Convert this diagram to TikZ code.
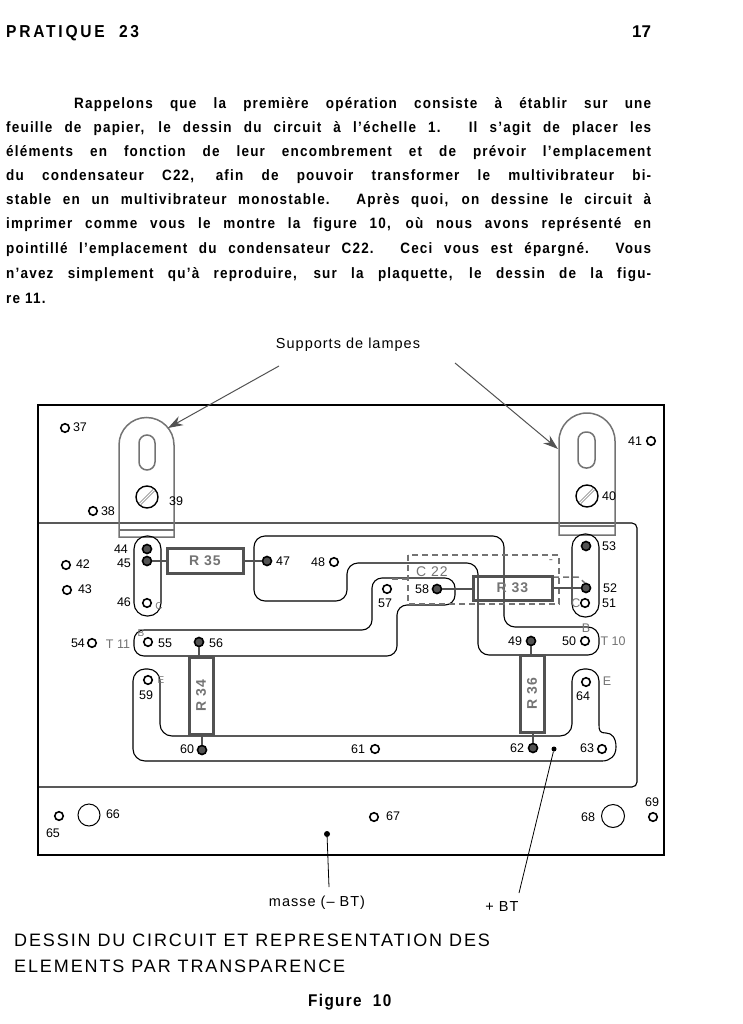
\documentclass[tikz,border=0pt]{standalone}
\usepackage{xcolor}
\usepackage{fontspec}
\setmainfont{Liberation Sans}
\newfontfamily\pagefont[LetterSpace=8,FakeStretch=0.9]{Liberation Sans}
\newfontfamily\headfont[LetterSpace=16,FakeStretch=0.9]{Liberation Sans}
\newfontfamily\capfont[LetterSpace=10.5]{Liberation Sans}
\newfontfamily\legendfont[LetterSpace=7]{Liberation Sans}
\usetikzlibrary{arrows.meta}
\definecolor{partgrey}{gray}{0.45}
\definecolor{padgrey}{gray}{0.32}
\newcommand{\bodyline}[1]{\makebox[645pt][s]{\pagefont\bfseries\fontsize{15}{16}\selectfont #1}}
\tikzset{
  pad/.style={circle,draw=black,line width=1.6pt,fill=white,inner sep=0pt,minimum size=8.5pt},
  padfull/.style={pad,fill=padgrey,minimum size=9pt},
  num/.style={inner sep=0pt,font=\fontsize{12.5}{13}\selectfont},
  greytext/.style={num,text=partgrey},
  trace/.style={draw=black,line width=1.1pt},
  socket/.style={draw=partgrey,line width=1.5pt},
  partbox/.style={draw=padgrey,line width=3pt,fill=white,inner sep=0pt,font=\legendfont\fontsize{14}{15}\selectfont\bfseries,text=partgrey},
  lead/.style={draw=padgrey,line width=1.8pt},
  dashbox/.style={draw=partgrey,line width=1.5pt,dash pattern=on 6pt off 4pt},
  screw/.style={circle,draw=black,line width=1.4pt,inner sep=0pt,minimum size=22pt},
  slit/.style={draw=partgrey,line width=0.8pt,double=white,double distance=1.2pt,shorten <=2pt,shorten >=2pt},
  pointer/.style={draw=black,line width=0.8pt},
  arrowline/.style={draw=padgrey,line width=1pt,-{Stealth[length=15pt,width=10pt]}},
  legend/.style={inner sep=0pt,font=\legendfont\fontsize{14.5}{15}\selectfont},
  pagetext/.style={inner sep=0pt,anchor=base west}
}
\begin{document}
\begin{tikzpicture}[x=1pt,y=-1pt]
  \useasboundingbox (0,0) rectangle (742,1024);

  % page text
  \node[pagetext,font=\headfont\bfseries\fontsize{17.3}{18}\selectfont] (title) at (6,38) {PRATIQUE\ \ 23};
  \node[pagetext,font=\bfseries\fontsize{17}{18}\selectfont] (folio) at (632,38) {17};
  \node[pagetext] (line0) at (6,109) {\hspace{68pt}\makebox[577pt][s]{\pagefont\bfseries\fontsize{15}{16}\selectfont Rappelons que la première opération consiste à établir sur une}};
  \node[pagetext] (line1) at (6,133) {\bodyline{feuille de papier, le dessin du circuit à l’échelle 1. Il s’agit de placer les}};
  \node[pagetext] (line2) at (6,157) {\bodyline{éléments en fonction de leur encombrement et de prévoir l’emplacement}};
  \node[pagetext] (line3) at (6,181) {\bodyline{du condensateur C22, afin de pouvoir transformer le multivibrateur bi-}};
  \node[pagetext] (line4) at (6,205) {\bodyline{stable en un multivibrateur monostable. Après quoi, on dessine le circuit à}};
  \node[pagetext] (line5) at (6,229) {\bodyline{imprimer comme vous le montre la figure 10, où nous avons représenté en}};
  \node[pagetext] (line6) at (6,253) {\bodyline{pointillé l’emplacement du condensateur C22. Ceci vous est épargné. Vous}};
  \node[pagetext] (line7) at (6,278) {\bodyline{n’avez simplement qu’à reproduire, sur la plaquette, le dessin de la figu-}};
  \node[pagetext,font=\pagefont\bfseries\fontsize{15}{16}\selectfont] (line8) at (6,303) {re 11.};

  % board
  \node[legend] (supports) at (348,345) {Supports de lampes};
  \draw[draw=black,line width=1.8pt] (38,405) rectangle (664,855);
  \draw[trace,rounded corners=5pt] (38,523) -- (637,523) -- (637,787) -- (38,787);

  % lamp holders
  \draw[socket] (119,537) -- (119,445) arc[start angle=180,end angle=0,radius=27.5pt] -- (174,537) -- cycle;
  \draw[socket] (119,530) -- (174,530);
  \draw[socket,rounded corners=8pt] (139,435) rectangle (155,470);
  \node[screw] (s39) at (147,497) {};
  \draw[slit] (s39.south west) -- (s39.north east);
  \draw[socket] (559,535) -- (559,441) arc[start angle=180,end angle=0,radius=28pt] -- (615,535) -- cycle;
  \draw[socket] (559,526) -- (615,526);
  \draw[socket,rounded corners=8pt] (578,432) rectangle (595,468);
  \node[screw] (s40) at (587,496) {};
  \draw[slit] (s40.south west) -- (s40.north east);
  \coordinate (tailL) at (279,366);
  \coordinate (tipL) at (168,428);
  \coordinate (tailR) at (455,363);
  \coordinate (tipR) at (558,449);
  \draw[arrowline] (tailL) -- (tipL);
  \draw[arrowline] (tailR) -- (tipR);

  % copper outlines
  \draw[trace,rounded corners=13pt] (134,536) rectangle (161,616);
  \draw[trace,rounded corners=13pt] (572,534) rectangle (599,617);
  \draw[trace,rounded corners=11pt] (254,536) -- (504,536) -- (504,627) -- (599,627) -- (599,655) -- (478,655) -- (478,563) -- (347,563) -- (347,601) -- (254,601) -- cycle;
  \draw[trace,rounded corners=10pt] (134,630) -- (372,630) -- (372,578) -- (455,578) -- (455,605) -- (397,605) -- (397,656) -- (134,656) -- cycle;
  \draw[trace,rounded corners=12pt] (599,725) -- (599,669) -- (572,669) -- (572,736) -- (160,736) -- (160,669) -- (133,669) -- (133,761) -- (602,761);
  \draw[trace] (599,725) .. controls (599,731) and (600,733) .. (606,733) .. controls (612,733) and (616,738) .. (616,747) .. controls (616,756) and (610,761) .. (602,761);

  % capacitor outline
  \draw[dashbox] (408,555) rectangle (559,604);
  \draw[dashbox] (553,577) -- (578,577) -- (585,583);
  \draw[dashbox] (392,579) -- (408,579);
  \node[greytext,font=\legendfont\fontsize{14}{15}\selectfont] (c22) at (432,572) {C 22};
  \node[greytext] (cminus) at (551,562) {-};

  % pads
  \node[pad] (p37) at (65,428) {};
  \node[pad] (p38) at (93,511) {};
  \node[pad] (p41) at (651,441) {};
  \node[pad] (p42) at (66,565) {};
  \node[pad] (p43) at (67,590) {};
  \node[padfull] (p44) at (147,549) {};
  \node[padfull] (p45) at (147,561) {};
  \node[pad] (p46) at (147,603) {};
  \node[padfull] (p47) at (267,561) {};
  \node[pad] (p48) at (334,562) {};
  \node[padfull] (p49) at (531,641) {};
  \node[pad] (p50) at (585,641) {};
  \node[pad] (p51) at (585,603) {};
  \node[padfull] (p52) at (586,588) {};
  \node[padfull] (p53) at (586,546) {};
  \node[pad] (p54) at (92,643) {};
  \node[pad] (p55) at (148,642) {};
  \node[padfull] (p56) at (199,642) {};
  \node[pad] (p57) at (387,589) {};
  \node[padfull] (p58) at (437,589) {};
  \node[pad] (p59) at (148,680) {};
  \node[padfull] (p60) at (202,750) {};
  \node[pad] (p61) at (375,749) {};
  \node[padfull] (p62) at (533,748) {};
  \node[pad] (p63) at (602,749) {};
  \node[pad] (p64) at (586,682) {};
  \node[pad] (p65) at (59,816) {};
  \node[pad] (p67) at (374,817) {};
  \node[pad] (p69) at (653,817) {};
  \node[circle,draw=black,line width=1pt,inner sep=0pt,minimum size=22pt] (p66) at (89,815) {};
  \node[circle,draw=black,line width=1pt,inner sep=0pt,minimum size=23pt] (p68) at (613,816) {};
  \node[circle,fill=black,inner sep=0pt,minimum size=6pt] (masse) at (327,834) {};
  \node[circle,fill=black,inner sep=0pt,minimum size=5pt] (plus) at (554,749) {};

  % resistors
  \node[partbox,minimum width=76pt,minimum height=25pt] (r35) at (205,560.5) {R 35};
  \node[partbox,minimum width=79pt,minimum height=24pt,fill=none] (r33) at (512.5,588) {R 33};
  \node[partbox,rotate=90,minimum width=77pt,minimum height=24pt] (r34) at (201,695.5) {R 34};
  \node[partbox,rotate=90,minimum width=77pt,minimum height=24pt] (r36) at (532,693.5) {R 36};
  \draw[lead] (p45) -- (p45 -| r35.west);
  \draw[lead] (p47 -| r35.east) -- (p47);
  \draw[lead] (p58) -- (p58 -| r33.west);
  \draw[lead] (p52 -| r33.east) -- (p52);
  \draw[lead] (p56) -- (p56 |- r34.east);
  \draw[lead] (p60 |- r34.west) -- (p60);
  \draw[lead] (p49) -- (p49 |- r36.east);
  \draw[lead] (p62 |- r36.west) -- (p62);

  % numbers
  \node[num] (n37) at (80,427) {37};
  \node[num] (n38) at (108,511) {38};
  \node[num] (n39) at (176,501) {39};
  \node[num] (n40) at (609,496) {40};
  \node[num] (n41) at (635,441) {41};
  \node[num] (n42) at (83,564) {42};
  \node[num] (n43) at (85,589) {43};
  \node[num] (n44) at (121,549) {44};
  \node[num] (n45) at (124,563) {45};
  \node[num] (n46) at (124,602) {46};
  \node[num] (n47) at (283,561) {47};
  \node[num] (n48) at (318,562) {48};
  \node[num] (n49) at (515,641) {49};
  \node[num] (n50) at (569,641) {50};
  \node[num] (n51) at (609,603) {51};
  \node[num] (n52) at (610,588) {52};
  \node[num] (n53) at (609,546) {53};
  \node[num] (n54) at (78,643) {54};
  \node[num] (n55) at (165,643) {55};
  \node[num] (n56) at (216,643) {56};
  \node[num] (n57) at (385,603) {57};
  \node[num] (n58) at (422,589) {58};
  \node[num] (n59) at (146,695) {59};
  \node[num] (n60) at (187,749) {60};
  \node[num] (n61) at (358,749) {61};
  \node[num] (n62) at (517,748) {62};
  \node[num] (n63) at (587,748) {63};
  \node[num] (n64) at (583,696) {64};
  \node[num] (n65) at (53,833) {65};
  \node[num] (n66) at (113,814) {66};
  \node[num] (n67) at (393,816) {67};
  \node[num] (n68) at (588,817) {68};
  \node[num] (n69) at (652,802) {69};

  % transistor marks
  \node[greytext] (t11) at (118,644) {T 11};
  \node[greytext] (t10) at (613,641) {T 10};
  \node[greytext,font=\fontsize{10}{11}\selectfont] (c11) at (159,606) {C};
  \node[greytext,font=\fontsize{10}{11}\selectfont] (b11) at (141,633) {B};
  \node[greytext,font=\fontsize{10}{11}\selectfont] (e11) at (161,680) {E};
  \node[greytext] (c10) at (576,603) {C};
  \node[greytext] (b10) at (586,628) {B};
  \node[greytext] (e10) at (607,681) {E};

  % outside the board
  \coordinate (massefoot) at (329,887);
  \coordinate (plusfoot) at (519,893);
  \draw[pointer] (masse) -- (massefoot);
  \draw[pointer] (plus) -- (plusfoot);
  \node[legend] (massetext) at (317,903) {masse (– BT)};
  \node[legend] (plustext) at (502,907) {+ BT};
  \node[pagetext,font=\capfont\fontsize{18}{20}\selectfont] (cap1) at (14,946) {DESSIN DU CIRCUIT ET REPRESENTATION DES};
  \node[pagetext,font=\capfont\fontsize{18}{20}\selectfont] (cap2) at (14,972) {ELEMENTS PAR TRANSPARENCE};
  \node[pagetext,font=\pagefont\bfseries\fontsize{17}{18}\selectfont] (figure) at (308,1006) {Figure\ \ 10};
\end{tikzpicture}
\end{document}
